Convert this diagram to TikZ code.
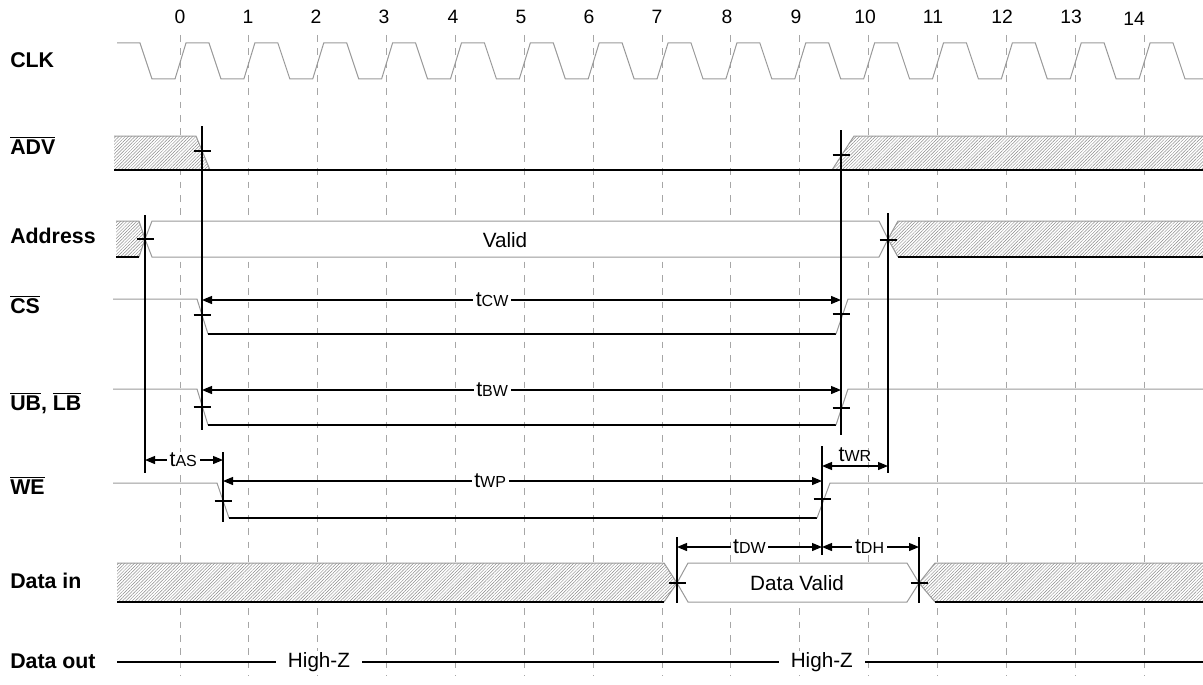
\documentclass[tikz,border=0pt]{standalone}
\usepackage{fontspec}
\setmainfont{Liberation Sans}
\usepackage{xcolor}
\colorlet{colEdge}{black!40}
\colorlet{colGrid}{black!35}
\colorlet{colHatch}{black!45}
\usepackage{tikz}
\usetikzlibrary{arrows.meta, patterns.meta, calc}

\newcommand{\nbar}[1]{$\overline{\mbox{#1}}$}
\newcommand{\tsub}[1]{t{\fontsize{12}{13}\selectfont #1}}

\begin{document}
\begin{tikzpicture}[x=0.75pt, y=-0.75pt,
		sig/.style={draw=colEdge, line width=0.75pt},
		lvl/.style={draw=black, line width=0.9pt},
		hatch/.style={preaction={fill=white},
			pattern={Lines[angle=45, distance=1.7pt, line width=0.35pt]},
			pattern color=colHatch},
		grid/.style={draw=colGrid, line width=0.7pt, dash pattern=on 5pt off 5pt},
		edge/.style={draw=black, line width=0.9pt},
		tick/.style={draw=black, line width=0.9pt},
		dim/.style={draw=black, line width=0.9pt,
			{Triangle[length=7.5pt, width=6pt]}-{Triangle[length=7.5pt, width=6pt]}},
		rowlab/.style={anchor=base west, font=\fontsize{16}{19}\selectfont\bfseries, inner sep=0pt},
		num/.style={anchor=base, font=\fontsize{14.5}{17}\selectfont, inner sep=0pt},
		val/.style={font=\fontsize{15.5}{18}\selectfont, inner sep=0pt},
		tlab/.style={font=\fontsize{16}{19}\selectfont, fill=white, inner xsep=2pt, inner ysep=1pt},
		>=Stealth
	]
	\useasboundingbox (0,0) rectangle (1203,685);
	\def\xo{180}
	\def\per{68.86}

	% ===== Clock grid and cycle numbers =====
	\foreach \i in {0,...,14}
		\draw[grid] ({\xo+\per*\i},35) -- ({\xo+\per*\i},676);
	\foreach \n/\x in {0/180,1/248,2/316,3/384,4/453,5/521,6/589,7/657,
			8/727,9/796,10/865,11/933,12/1002,13/1071}
		\node[num] (c\n) at (\x,24) {\n};
	\node[num] (c14) at (1134,26) {14};

	% ===== Row labels =====
	\node[rowlab] (lclk)  at (10,68)  {CLK};
	\node[rowlab] (ladv)  at (10,154) {\nbar{ADV}};
	\node[rowlab] (laddr) at (10,243) {Address};
	\node[rowlab] (lcs)   at (10,313) {\nbar{CS}};
	\node[rowlab] (lblb)  at (10,410) {\nbar{UB}, \nbar{LB}};
	\node[rowlab] (lwe)   at (10,494) {\nbar{WE}};
	\node[rowlab] (ldin)  at (10,588) {Data in};
	\node[rowlab] (ldout) at (10,668) {Data out};

	% ===== CLK =====
	\draw[sig] (117,43) -- (140,43) -- (152,79)
		foreach \i in {0,...,14} {
			-- ({\xo+\per*\i-5},79) -- ({\xo+\per*\i+6},43)
			-- ({\xo+\per*\i+29},43) -- ({\xo+\per*\i+41},79)
		} -- (1203,79);

	% ===== ADV =====
	\path[hatch] (114,136) -- (196,136) -- (210,170) -- (114,170) -- cycle;
	\draw[sig] (114,136) -- (196,136) -- (210,170);
	\path[hatch] (832,170) -- (854,136) -- (1203,136) -- (1203,170) -- cycle;
	\draw[sig] (832,170) -- (854,136) -- (1203,136);
	\draw[lvl] (114,170) -- (1203,170);

	% ===== Address =====
	\path[hatch] (116,221) -- (139,221) -- (145,239) -- (139,257) -- (116,257) -- cycle;
	\draw[sig] (116,221) -- (139,221) -- (145,239) -- (139,257);
	\draw[lvl] (116,257) -- (139,257);
	\draw[sig, fill=white] (145,239) -- (152,221) -- (879,221) -- (888,239)
		-- (879,257) -- (152,257) -- cycle;
	\node[val] (lvalid) at (505,240) {Valid};
	\path[hatch] (888,239) -- (898,221) -- (1203,221) -- (1203,257) -- (898,257) -- cycle;
	\draw[sig] (1203,221) -- (898,221) -- (888,239) -- (898,257);
	\draw[lvl] (898,257) -- (1203,257);

	% ===== CS and UB/LB =====
	\draw[sig] (113,299) -- (197,299) -- (208,334);
	\draw[lvl] (208,334) -- (836,334);
	\draw[sig] (836,334) -- (848,299) -- (1203,299);
	\draw[sig] (113,389) -- (197,389) -- (208,425);
	\draw[lvl] (208,425) -- (836,425);
	\draw[sig] (836,425) -- (848,389) -- (1203,389);

	% ===== WE =====
	\draw[sig] (113,483) -- (217,483) -- (229,518);
	\draw[lvl] (229,518) -- (817,518);
	\draw[sig] (817,518) -- (830,483) -- (1203,483);

	% ===== Data in =====
	\path[hatch] (117,563) -- (664,563) -- (677,583) -- (664,602) -- (117,602) -- cycle;
	\draw[sig] (117,563) -- (664,563) -- (677,583) -- (664,602);
	\draw[lvl] (117,602) -- (664,602);
	\draw[sig, fill=white] (677,583) -- (688,563) -- (907,563) -- (919,583)
		-- (907,602) -- (688,602) -- cycle;
	\node[val] (ldvalid) at (797,583) {Data Valid};
	\path[hatch] (919,583) -- (935,563) -- (1203,563) -- (1203,602) -- (935,602) -- cycle;
	\draw[sig] (1203,563) -- (935,563) -- (919,583) -- (935,602);
	\draw[lvl] (935,602) -- (1203,602);

	% ===== Data out =====
	\coordinate (doL) at (117,662);
	\coordinate (doR) at (1203,662);
	\draw[lvl] (doL) -- node[tlab, font=\fontsize{15.5}{18}\selectfont, pos=0.186, inner xsep=9pt] (lhz1) {High-Z}
		node[tlab, font=\fontsize{15.5}{18}\selectfont, pos=0.649, inner xsep=9pt] (lhz2) {High-Z} (doR);

	% ===== Timing edges =====
	\coordinate (eAdvT) at (202,126); \coordinate (eAdvB) at (202,430);
	\coordinate (eAsT)  at (145,215); \coordinate (eAsB)  at (145,473);
	\coordinate (eCwT)  at (841,130); \coordinate (eCwB)  at (841,435);
	\coordinate (eWrT)  at (888,213); \coordinate (eWrB)  at (888,473);
	\coordinate (eWeT)  at (223,452); \coordinate (eWeB)  at (223,522);
	\coordinate (eWpT)  at (822,446); \coordinate (eWpB)  at (822,555);
	\coordinate (eDwT)  at (677,537); \coordinate (eDwB)  at (677,603);
	\coordinate (eDhT)  at (919,537); \coordinate (eDhB)  at (919,603);
	\foreach \e in {Adv,As,Cw,Wr,We,Wp,Dw,Dh}
		\draw[edge] (e\e T) -- (e\e B);

	% crossing marks
	\foreach \x/\y in {202/151, 145/239, 888/240, 841/155, 202/315, 841/314,
			202/407, 841/408, 223/501, 822/499, 677/583, 919/583}
		\draw[tick] (\x-8.5,\y) -- (\x+8.5,\y);

	% ===== Timing arrows =====
	\coordinate (cwL) at (202,300); \coordinate (cwR) at (841,300);
	\coordinate (bwL) at (202,390); \coordinate (bwR) at (841,390);
	\coordinate (asL) at (145,460); \coordinate (asR) at (223,460);
	\coordinate (wpL) at (223,481); \coordinate (wpR) at (822,481);
	\coordinate (wrL) at (822,466); \coordinate (wrR) at (888,466);
	\coordinate (dwL) at (677,547); \coordinate (dwR) at (822,547);
	\coordinate (dhL) at (822,547); \coordinate (dhR) at (919,547);
	\draw[dim] (cwL) -- node[tlab, pos=0.454] (lcw) {\tsub{CW}} (cwR);
	\draw[dim] (bwL) -- node[tlab, pos=0.454] (lbw) {\tsub{BW}} (bwR);
	\draw[dim] (asL) -- node[tlab, pos=0.49] (las) {\tsub{AS}} (asR);
	\draw[dim] (wpL) -- node[tlab, pos=0.446] (lwp) {\tsub{WP}} (wpR);
	\draw[dim] (wrL) -- node[tlab, fill=none, above=1.5pt] (lwr) {\tsub{WR}} (wrR);
	\draw[dim] (dwL) -- node[tlab, pos=0.5] (ldw) {\tsub{DW}} (dwR);
	\draw[dim] (dhL) -- node[tlab, pos=0.49] (ldh) {\tsub{DH}} (dhR);
\end{tikzpicture}
\end{document}
